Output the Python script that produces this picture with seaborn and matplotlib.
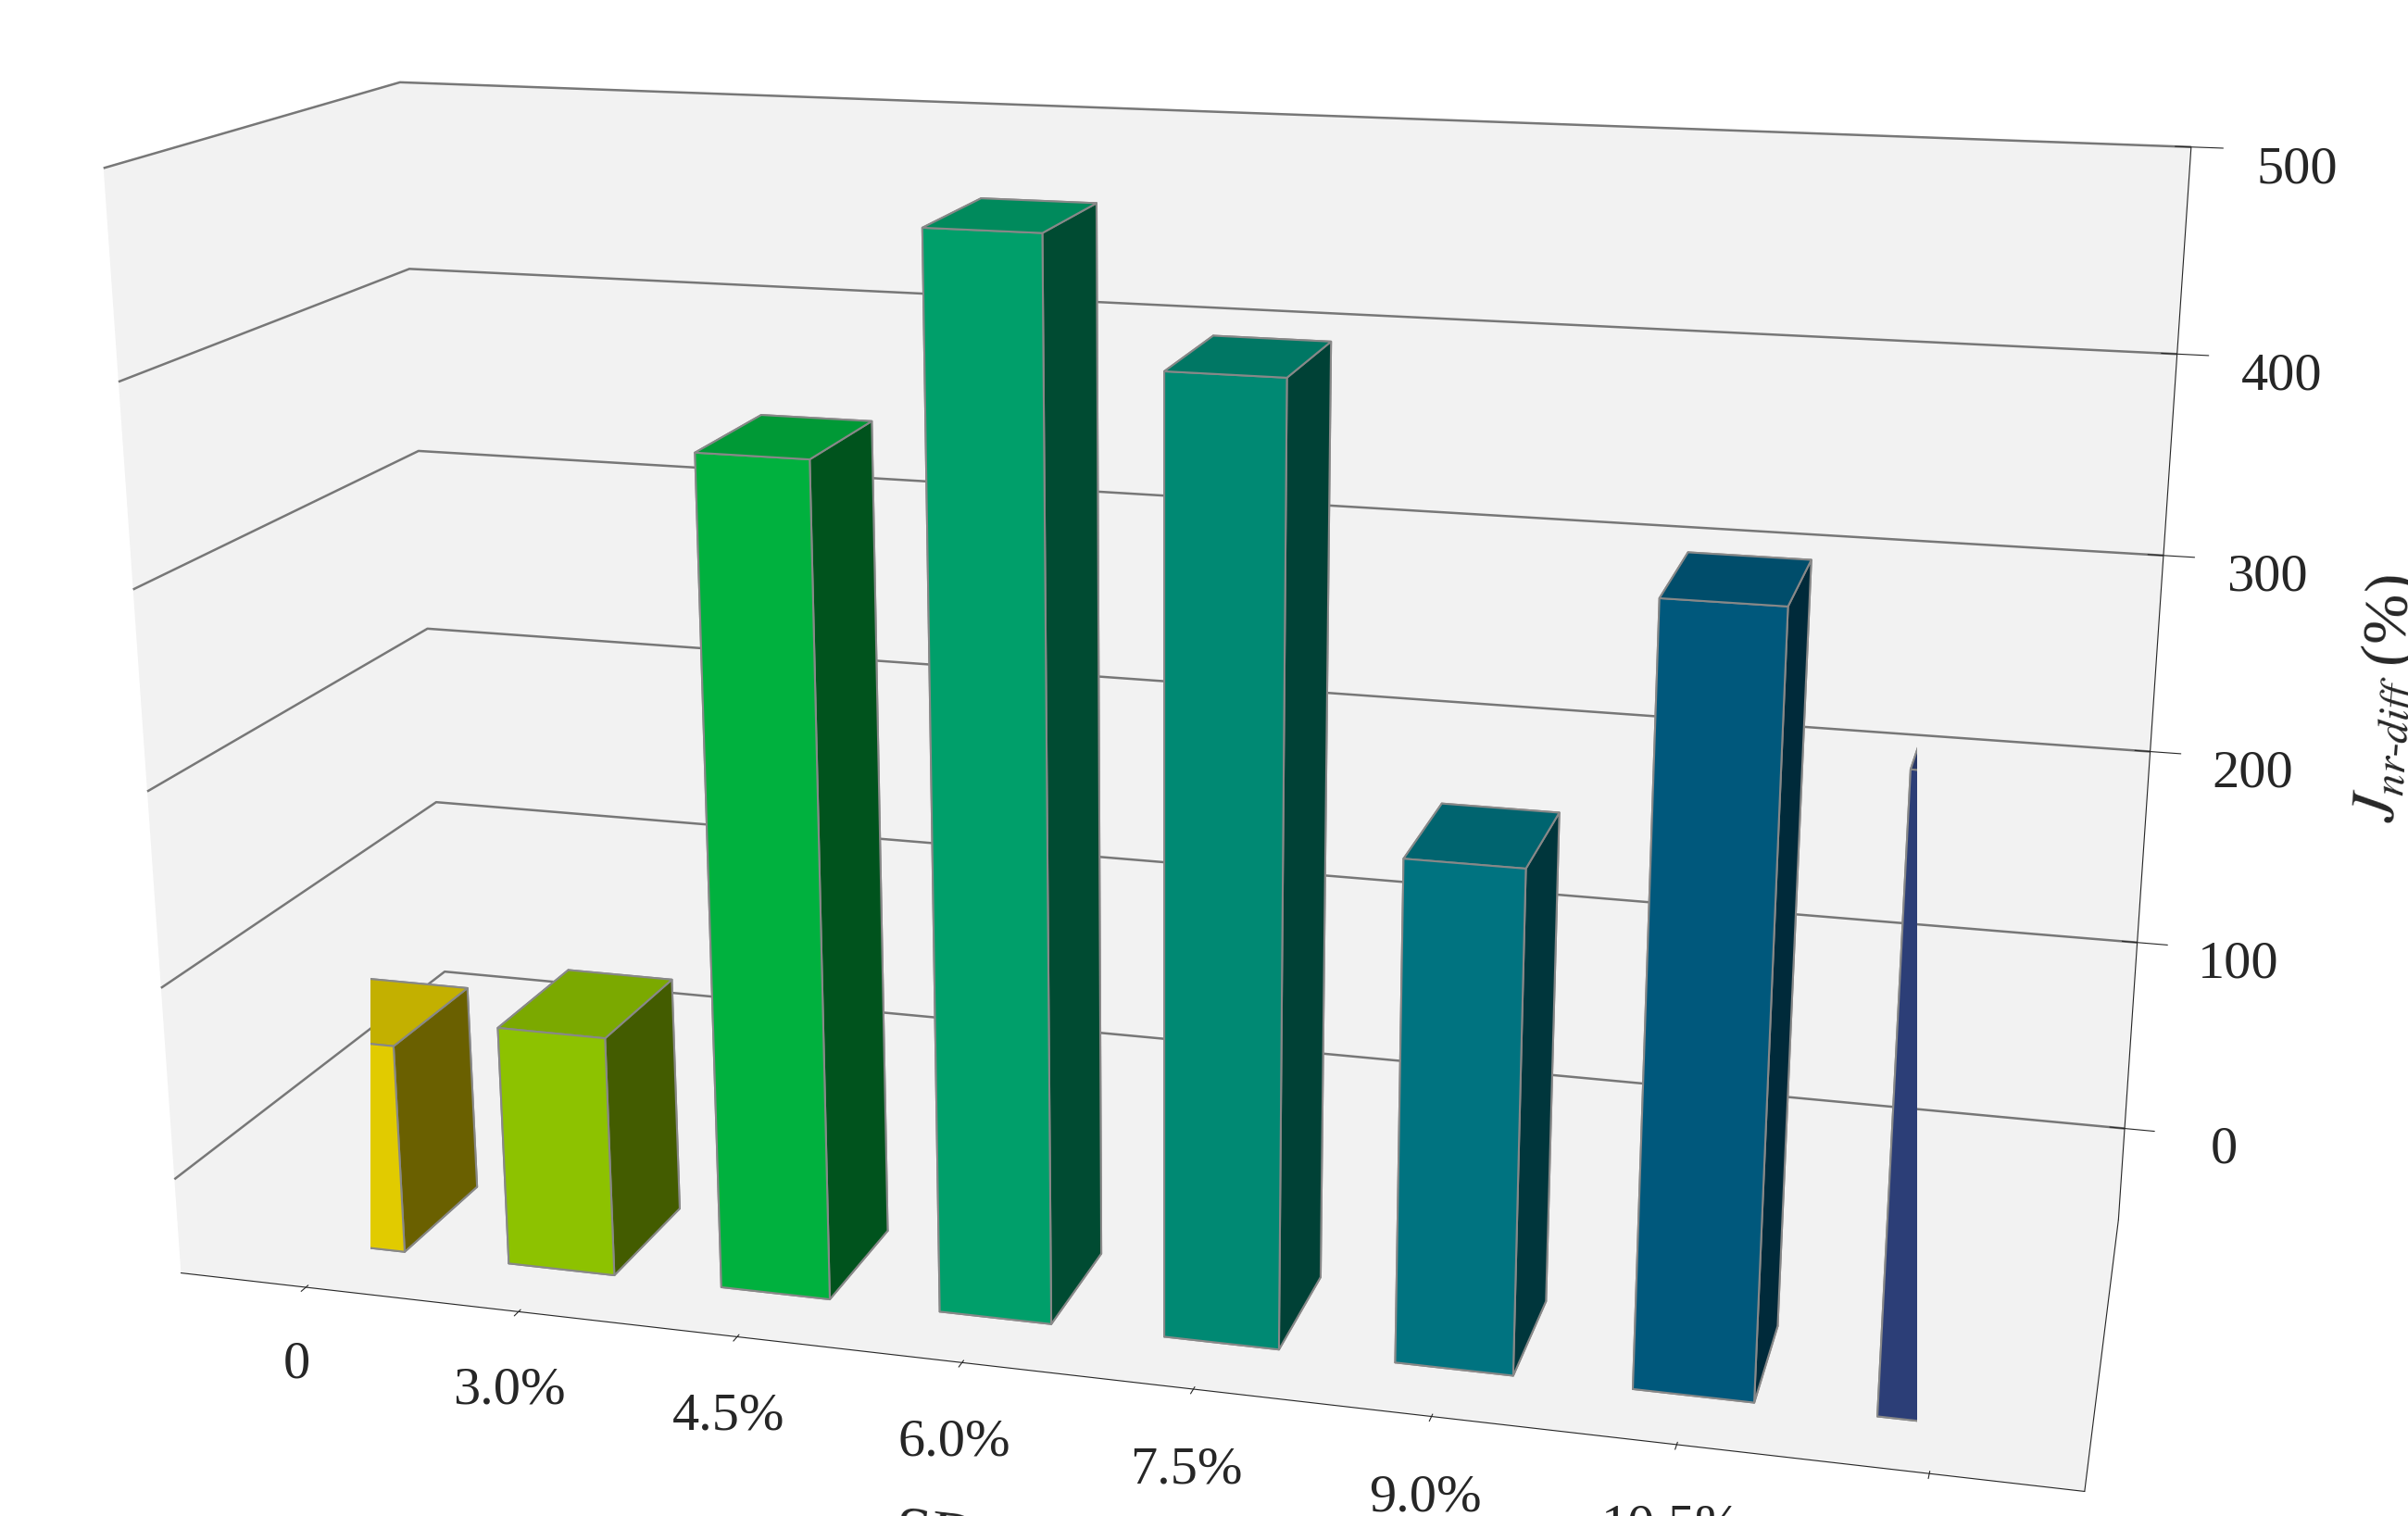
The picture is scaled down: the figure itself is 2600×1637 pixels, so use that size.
import numpy as np
import matplotlib
matplotlib.use("Agg")
import matplotlib.pyplot as plt
import seaborn as sns

# values
labels = ['0', '3.0%', '4.5%', '6.0%', '7.5%', '9.0%', '10.5%', '12.0%']
values = [60, 75, 370, 480, 420, 200, 330, 260]
colors = ['#FFE600', '#A0DC00', '#00C846', '#00B478', '#009B82',
          '#008291', '#00648C', '#324687']

sns.set_style('white')
plt.rcParams['font.family'] = ['Liberation Serif', 'DejaVu Serif']
plt.rcParams['mathtext.fontset'] = 'stix'

fig = plt.figure(figsize=(26, 16.37), dpi=100)
ax = fig.add_subplot(111, projection='3d', proj_type='persp', focal_length=0.5)

zmin = -50
x = np.arange(len(values))
for xi, v, c in zip(x, values, colors):
    ax.bar3d(xi - 0.25, -0.3, zmin, 0.5, 0.5, v - zmin, color=c,
             edgecolor='#888888', linewidth=1.5, shade=True)

ax.set_xlim(-0.6, len(values) - 0.4)
ax.set_ylim(-0.6, 1.2)
ax.set_zlim(zmin, 500)
ax.set_xticks(x)
ax.set_xticklabels(labels, fontsize=42)
ax.set_yticks([])
ax.set_zticks([0, 100, 200, 300, 400, 500])
ax.tick_params(axis='z', labelsize=42, pad=25)
ax.tick_params(axis='x', pad=18)
ax.set_xlabel('SBS content', fontsize=50, labelpad=60)
ax.set_zlabel(r'$J_{nr\text{-}diff}$ (%)', fontsize=48, labelpad=55)

for axis in (ax.xaxis, ax.yaxis, ax.zaxis):
    axis.set_pane_color((0.95, 0.95, 0.95, 1.0))
    axis._axinfo['grid']['color'] = '#777777'
    axis._axinfo['grid']['linewidth'] = 1.8
ax.xaxis._axinfo['grid']['linewidth'] = 0
ax.yaxis._axinfo['grid']['linewidth'] = 0

ax.view_init(elev=16, azim=-75)
ax.set_box_aspect((3.2, 1.1, 1.9), zoom=1.45)
plt.subplots_adjust(left=-0.02, right=0.97, bottom=0.0, top=1.02)
fig.savefig('out.png', dpi=100)
